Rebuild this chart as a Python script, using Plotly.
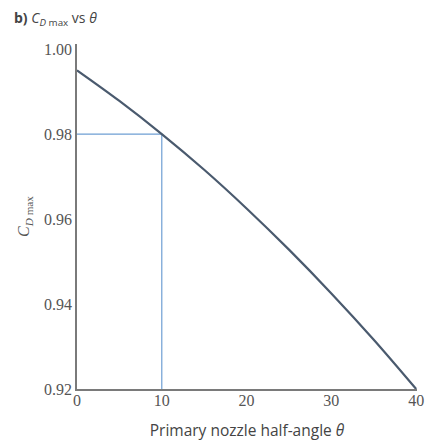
import plotly.graph_objects as go

# Data
theta = [0, 5, 10, 15, 20, 25, 30, 35, 40]
cd_max = [0.995, 0.9878, 0.980, 0.9716, 0.9625, 0.9528, 0.9425, 0.9316, 0.920]
marker_theta = 10
marker_cd = 0.98
x_ticks = [0, 10, 20, 30, 40]
y_ticks = [0.92, 0.94, 0.96, 0.98, 1.00]
y_tick_labels = ["0.92", "0.94", "0.96", "0.98", "1.00"]

fig = go.Figure()
# guide lines
fig.add_trace(go.Scatter(
    x=[0, marker_theta, marker_theta], y=[marker_cd, marker_cd, y_ticks[0]],
    mode="lines", line=dict(color="#6f9fd3", width=1.2), hoverinfo="skip", showlegend=False))
fig.add_trace(go.Scatter(
    x=theta, y=cd_max, mode="lines", line=dict(color="#4a5a6e", width=2.2, shape="spline"),
    showlegend=False))

serif = "Liberation Serif, DejaVu Serif, serif"
sans = "Open Sans, Liberation Sans, sans-serif"

L, R, T, B = 77, 10, 44, 52
W, H = 427, 441
pw, ph = W - L - R, H - T - B

fig.update_layout(
    width=W, height=H,
    margin=dict(l=L, r=R, t=T, b=B),
    paper_bgcolor="white", plot_bgcolor="white",
    xaxis=dict(range=[0, 40.1], tickvals=x_ticks, showgrid=False, zeroline=False,
               automargin=False,
               showline=True, linecolor="#7a7a7a", linewidth=1.5, ticks="",
               ticklabelstandoff=-4,
               tickfont=dict(family=serif, size=16, color="#555"),
               title=dict(text="Primary nozzle half-angle <i>θ</i>", standoff=18,
                          font=dict(family=sans, size=15.5, color="#444"))),
    yaxis=dict(range=[0.92, 1.0012], tickvals=y_ticks, ticktext=y_tick_labels,
               showgrid=False, zeroline=False, automargin=False,
               showline=True, linecolor="#7a7a7a", linewidth=1.5, ticks="",
               tickfont=dict(family=serif, size=16, color="#555"),
               title=dict(text="<i>C</i><sub><i>D</i> max</sub>", standoff=10,
                          font=dict(family=serif, size=16, color="#555"))),
)
fig.add_annotation(
    xref="paper", yref="paper", x=(12 - L) / pw, y=1 + (T - 6) / ph, xanchor="left", yanchor="top",
    showarrow=False,
    text="<b>b)</b> <i>C</i><sub><i>D</i> max</sub> vs <i>θ</i>",
    font=dict(family=sans, size=14, color="#444"))

fig.write_html(
    "out.html",
    config={"displayModeBar": False},
    post_script="document.body.style.margin='0';document.documentElement.style.overflow='hidden';",
)
